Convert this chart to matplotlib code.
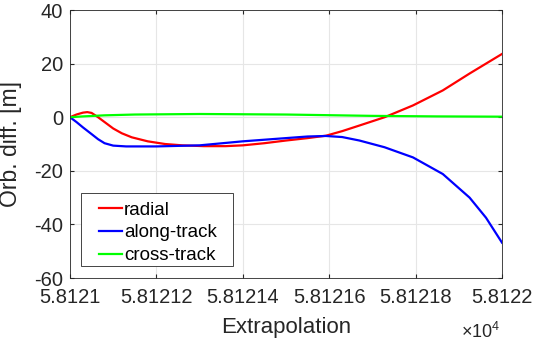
import matplotlib.pyplot as plt
from matplotlib.patches import Rectangle

plt.rcParams['font.family'] = ['Liberation Sans', 'DejaVu Sans']
plt.rcParams['axes.unicode_minus'] = False

# position inside the x range (58121 .. 58122), as a fraction
t_rad = [0, 0.015, 0.03, 0.04, 0.05, 0.065, 0.08, 0.1, 0.12, 0.143, 0.18, 0.22, 0.26, 0.31, 0.36,
         0.4, 0.45, 0.5, 0.55, 0.5926, 0.63, 0.67, 0.7284, 0.794, 0.863, 0.925, 1.0]
radial = [0, 1.0, 1.7, 1.9, 1.6, 0.0, -1.8, -4.2, -6.0, -7.5, -9.0, -10.0, -10.5, -10.8, -10.8,
          -10.5, -9.7, -8.7, -7.8, -6.9, -5.2, -3.1, 0.0, 4.4, 10.0, 16.3, 23.6]

t_along = [0, 0.015, 0.03, 0.05, 0.065, 0.08, 0.1, 0.13, 0.2, 0.3, 0.4, 0.5, 0.55, 0.5926, 0.63,
           0.67, 0.728, 0.794, 0.863, 0.925, 0.963, 1.0]
along = [0, -1.8, -3.8, -6.3, -8.2, -9.7, -10.6, -10.9, -10.9, -10.5, -9.0, -7.8, -7.2, -7.0, -7.4,
         -8.7, -11.2, -15.0, -21.2, -30.0, -37.5, -46.8]

t_cross = [0, 0.03, 0.08, 0.15, 0.3, 0.5, 0.7, 0.85, 1.0]
cross = [0, 0.3, 0.7, 1.0, 1.2, 1.0, 0.5, 0.3, 0.2]

x0 = 58121
xticks = [58121, 58121.2, 58121.4, 58121.6, 58121.8, 58122]
xticklabels = ['5.8121', '5.81212', '5.81214', '5.81216', '5.81218', '5.8122']
yticks = [-60, -40, -20, 0, 20, 40]

fig = plt.figure(figsize=(5.33, 3.43), dpi=100)
ax = fig.add_axes([0.1313, 0.1895, 0.8105, 0.7813])
ax.plot([x0 + v for v in t_rad], radial, color='#ff0000', lw=1.6, label='radial')
ax.plot([x0 + v for v in t_along], along, color='#0000ff', lw=1.6, label='along-track')
ax.plot([x0 + v for v in t_cross], cross, color='#00ff00', lw=1.6, label='cross-track')

ax.set_xlim(58121, 58122)
ax.set_ylim(-60, 40)
ax.set_xticks(xticks)
ax.set_xticklabels(xticklabels)
ax.set_yticks(yticks)
ax.grid(True, color='#e6e6e6', lw=0.8)
ax.set_axisbelow(True)
ax.tick_params(direction='in', length=3, colors='#262626', labelsize=14.5, top=True, right=True)
ax.tick_params(axis='x', pad=7)
ax.tick_params(axis='y', pad=5)
for s in ax.spines.values():
    s.set_color('#262626')
    s.set_linewidth(0.6)
ax.set_xlabel('Extrapolation', fontsize=16, color='#262626')
ax.set_ylabel('Orb. diff. [m]', fontsize=16.5, color='#262626')
ax.xaxis.set_label_coords(0.5, -0.145)
ax.yaxis.set_label_coords(-0.11, 0.5)
ax.text(0.995, -0.165, r'$\mathregular{\times10^{4}}$', transform=ax.transAxes, fontsize=13,
        color='#262626', ha='right', va='top')

# legend box drawn separately (wider side padding than matplotlib gives)
ax.add_patch(Rectangle((0.0255, 0.0448), 0.352, 0.272, transform=ax.transAxes, facecolor='white',
                       edgecolor='#262626', lw=0.6, zorder=4.5))
leg = ax.legend(loc='lower left', bbox_to_anchor=(0.067, 0.052), fontsize=13.5, frameon=False,
                handlelength=1.25, handletextpad=0.1, borderpad=0, labelspacing=0.3,
                borderaxespad=0)

fig.savefig('out.png', dpi=100)
